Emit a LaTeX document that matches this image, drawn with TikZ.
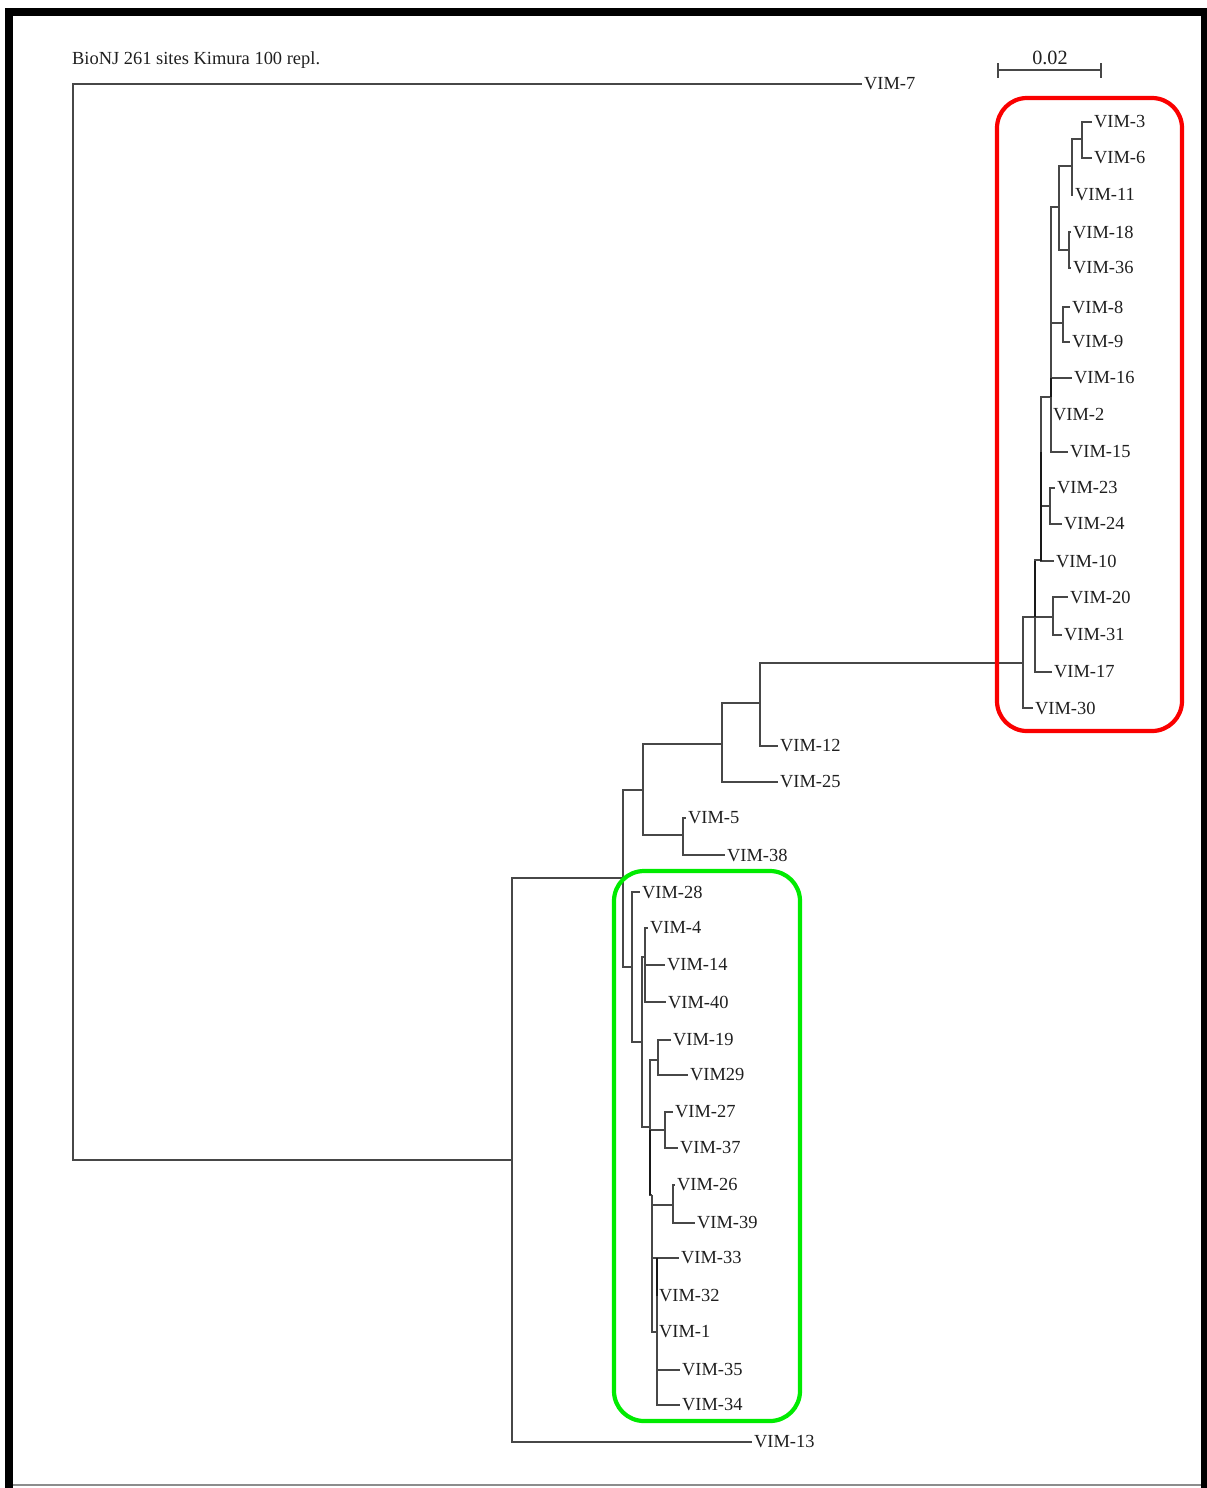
\documentclass[tikz,border=0pt]{standalone}
\usepackage{fontspec}
\setmainfont{Liberation Serif}
\definecolor{cladegreen}{RGB}{0,235,0}
\definecolor{cladered}{RGB}{250,0,0}
\begin{document}
\begin{tikzpicture}[x=0.02cm,y=-0.02cm,
  branch/.style={draw=black!72,line width=1pt},
  dark/.style={draw=black!90,line width=1.4pt},
  leaf/.style={anchor=west,inner xsep=1.2pt,inner ysep=0pt,outer sep=0pt,
    font=\fontsize{10.5}{12}\selectfont,text=black!88},
  cladebox/.style={rounded corners=0.6cm,line width=2.4pt}]
\useasboundingbox (0,0) rectangle (1207,1488);
% frame
\fill[black] (5,8) rectangle (13,1488);
\fill[black] (5,8) rectangle (1207,16);
\fill[black] (1201,8) rectangle (1207,1488);
\draw[black!45,line width=0.8pt] (13,1485) -- (1201,1485);
% heading and scale bar
\node[leaf] (title) at (70,60) {BioNJ 261 sites Kimura 100 repl.};
\coordinate (s0) at (998,70);
\coordinate (s1) at (1101,70);
\draw[branch] (s0) -- (s1);
\draw[branch] ([yshift=0.14cm]s0) -- ([yshift=-0.16cm]s0);
\draw[branch] ([yshift=0.14cm]s1) -- ([yshift=-0.16cm]s1);
\node[font=\fontsize{11.5}{13}\selectfont,text=black!88] (scale) at (1050,58) {0.02};
% internal nodes of the main tree
\coordinate (root) at (73,600);
\coordinate (n1) at (512,1160);
\coordinate (n2) at (623,878);
\coordinate (n3) at (643,790);
\coordinate (n4) at (722,744);
\coordinate (n5) at (683,835);
\coordinate (n6) at (760,703);
% red clade
\coordinate (rr) at (1023,663);
\coordinate (ra) at (1035,617);
\coordinate (rb) at (1041,560);
\coordinate (rd) at (1051,397);
\coordinate (rc) at (1059,207);
\coordinate (rbb) at (1072,166);
\coordinate (raa) at (1082,139);
\coordinate (rdd) at (1069,250);
\coordinate (rf) at (1063,323);
\coordinate (rh) at (1050,506);
\coordinate (ri) at (1053,617);
% green clade
\coordinate (g0) at (632,967);
\coordinate (g1) at (642,1042);
\coordinate (g2) at (645,957);
\coordinate (g3) at (650,1127);
\coordinate (g4) at (658,1060);
\coordinate (g5) at (665,1130);
\coordinate (g6) at (652,1195);
\coordinate (g7) at (673,1205);
\coordinate (g8) at (657,1332);
% leaves
\node[leaf] (v7) at (862,84) {VIM-7};
\node[leaf] (v13) at (752,1442) {VIM-13};
\node[leaf] (v12) at (778,746) {VIM-12};
\node[leaf] (v25) at (778,782) {VIM-25};
\node[leaf] (v5) at (686,818) {VIM-5};
\node[leaf] (v38) at (725,855) {VIM-38};
\node[leaf] (v3) at (1092,122) {VIM-3};
\node[leaf] (v6) at (1092,158) {VIM-6};
\node[leaf] (v11) at (1073,195) {VIM-11};
\node[leaf] (v18) at (1071,232) {VIM-18};
\node[leaf] (v36) at (1071,268) {VIM-36};
\node[leaf] (v8) at (1070,307) {VIM-8};
\node[leaf] (v9) at (1070,342) {VIM-9};
\node[leaf] (v16) at (1072,378) {VIM-16};
\node[leaf] (v2) at (1051,415) {VIM-2};
\node[leaf] (v15) at (1068,452) {VIM-15};
\node[leaf] (v23) at (1055,488) {VIM-23};
\node[leaf] (v24) at (1062,524) {VIM-24};
\node[leaf] (v10) at (1054,561) {VIM-10};
\node[leaf] (v20) at (1068,597) {VIM-20};
\node[leaf] (v31) at (1062,635) {VIM-31};
\node[leaf] (v17) at (1052,672) {VIM-17};
\node[leaf] (v30) at (1033,708) {VIM-30};
\node[leaf] (v28) at (640,892) {VIM-28};
\node[leaf] (v4) at (648,928) {VIM-4};
\node[leaf] (v14) at (665,965) {VIM-14};
\node[leaf] (v40) at (666,1002) {VIM-40};
\node[leaf] (v19) at (671,1040) {VIM-19};
\node[leaf] (v29) at (688,1075) {VIM29};
\node[leaf] (v27) at (673,1112) {VIM-27};
\node[leaf] (v37) at (678,1148) {VIM-37};
\node[leaf] (v26) at (675,1185) {VIM-26};
\node[leaf] (v39) at (695,1223) {VIM-39};
\node[leaf] (v33) at (679,1258) {VIM-33};
\node[leaf] (v32) at (657,1296) {VIM-32};
\node[leaf] (v1) at (657,1332) {VIM-1};
\node[leaf] (v35) at (680,1370) {VIM-35};
\node[leaf] (v34) at (680,1405) {VIM-34};
% branches
\draw[branch] (root) |- (v7.west);
\draw[branch] (root) |- (n1);
\draw[branch] (n1) |- (n2);
\draw[branch] (n1) |- (v13.west);
\draw[branch] (n2) |- (n3);
\draw[branch] (n2) |- (g0);
\draw[branch] (n3) |- (n4);
\draw[branch] (n3) |- (n5);
\draw[branch] (n4) |- (n6);
\draw[branch] (n4) |- (v25.west);
\draw[branch] (n6) |- (rr);
\draw[branch] (n6) |- (v12.west);
\draw[branch] (n5) |- (v5.west);
\draw[branch] (n5) |- (v38.west);
% red clade branches
\draw[branch] (rr) |- (ra);
\draw[branch] (rr) |- (v30.west);
\draw[branch] (ra) |- (rb);
\draw[branch] (ra) |- (ri);
\draw[branch] (ra) |- (v17.west);
\draw[branch] (rb) |- (rd);
\draw[branch] (rb) |- (rh);
\draw[branch] (rb) |- (v10.west);
\draw[branch] (rd) |- (rc);
\draw[branch] (rd) |- (rf);
\draw[branch] (rd) |- (v16.west);
\draw[branch] (rd) |- (v2.west);
\draw[branch] (rd) |- (v15.west);
\draw[branch] (rc) |- (rbb);
\draw[branch] (rc) |- (rdd);
\draw[branch] (rbb) |- (raa);
\draw[branch] (rbb) |- (v11.west);
\draw[branch] (raa) |- (v3.west);
\draw[branch] (raa) |- (v6.west);
\draw[branch] (rdd) |- (v18.west);
\draw[branch] (rdd) |- (v36.west);
\draw[branch] (rf) |- (v8.west);
\draw[branch] (rf) |- (v9.west);
\draw[branch] (rh) |- (v23.west);
\draw[branch] (rh) |- (v24.west);
\draw[branch] (ri) |- (v20.west);
\draw[branch] (ri) |- (v31.west);
% green clade branches
\draw[branch] (g0) |- (v28.west);
\draw[branch] (g0) |- (g1);
\draw[branch] (g1) |- (g2);
\draw[branch] (g1) |- (g3);
\draw[branch] (g2) |- (v4.west);
\draw[branch] (g2) |- (v14.west);
\draw[branch] (g2) |- (v40.west);
\draw[branch] (g3) |- (g4);
\draw[branch] (g3) |- (g5);
\draw[branch] (g3) |- (g6);
\draw[branch] (g4) |- (v19.west);
\draw[branch] (g4) |- (v29.west);
\draw[branch] (g5) |- (v27.west);
\draw[branch] (g5) |- (v37.west);
\draw[branch] (g6) |- (g7);
\draw[branch] (g6) |- (v33.west);
\draw[branch] (g6) |- (g8);
\draw[branch] (g7) |- (v26.west);
\draw[branch] (g7) |- (v39.west);
\draw[branch] (g8) |- (v32.west);
\draw[branch] (g8) |- (v1.west);
\draw[branch] (g8) |- (v35.west);
\draw[branch] (g8) |- (v34.west);
% overlapping short internodes print darker
\draw[dark] (rd |- v16.west) -- (rd |- rd);
\draw[dark] (rb |- v15.west) -- (rb |- v10.west);
\draw[dark] (ra |- v10.west) -- (ra);
\draw[dark] (g3 |- g5) -- (g3 |- g6);
\draw[dark] (g8 |- v33.west) -- (g8 |- v32.west);
% clade boxes
\draw[cladebox,cladered] (997,98) rectangle (1182,731);
\draw[cladebox,cladegreen] (614,871) rectangle (800,1421);
\end{tikzpicture}
\end{document}
